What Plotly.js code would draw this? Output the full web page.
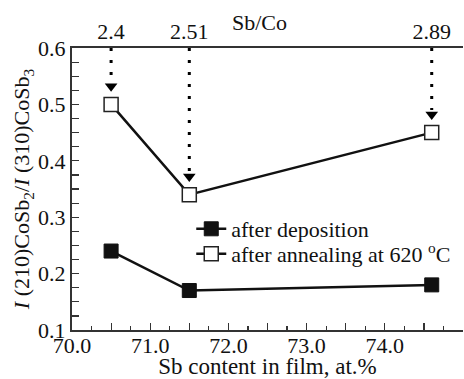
<!DOCTYPE html>
<html>
<head>
<meta charset="utf-8">
<script src="https://cdn.plot.ly/plotly-3.0.1.min.js"></script>
<style>html,body{margin:0;padding:0;background:#fff;}#chart{width:464px;height:379px;}</style>
</head>
<body>
<div id="chart"></div>
<script>
// Data
const sbContent = [70.5, 71.5, 74.6];
const sbCoRatio = ['2.4', '2.51', '2.89'];
const afterDeposition = [0.24, 0.17, 0.18];
const afterAnnealing = [0.50, 0.34, 0.45];
const xTickVals = [70, 70.5, 71, 71.5, 72, 72.5, 73, 73.5, 74, 74.5, 75];
const xTickText = ['70.0', '', '71.0', '', '72.0', '', '73.0', '', '74.0', '', ''];
const yTickVals = [0.1, 0.2, 0.3, 0.4, 0.5, 0.6];
const yTickText = ['0.1', '0.2', '0.3', '0.4', '0.5', '0.6'];

const FONT = '"Liberation Serif", "Times New Roman", Tinos, "DejaVu Serif", serif';
const traces = [];

// dotted arrows from top axis to annealed points
sbContent.forEach((x, i) => {
  traces.push({
    x: [x, x], y: [0.6, afterAnnealing[i] + 0.04],
    mode: 'lines', line: {color: '#000', width: 3, dash: '3px,9px'},
    showlegend: false, hoverinfo: 'skip', cliponaxis: false
  });
});
traces.push({
  x: sbContent, y: afterAnnealing.map(v => v + 0.032),
  mode: 'markers', marker: {symbol: 'triangle-down', size: 11, color: '#000'},
  showlegend: false, hoverinfo: 'skip'
});

traces.push({
  x: sbContent, y: afterDeposition, name: 'after deposition',
  mode: 'lines+markers', legend: 'legend',
  line: {color: '#111', width: 2.5},
  marker: {symbol: 'square', size: 14, color: '#111', line: {color: '#111', width: 1}}
});
traces.push({
  x: sbContent, y: afterAnnealing, name: 'after annealing at 620 <sup>o</sup>C',
  mode: 'lines+markers', legend: 'legend2',
  line: {color: '#111', width: 2.5},
  marker: {symbol: 'square', size: 14, color: '#fff', line: {color: '#222', width: 1.5}}
});
// invisible trace for top axis
traces.push({x: sbContent, y: afterAnnealing, xaxis: 'x2', mode: 'markers', marker: {opacity: 0}, showlegend: false, hoverinfo: 'skip'});

const legendBase = {xanchor: 'left', yanchor: 'top', bgcolor: 'rgba(0,0,0,0)', borderwidth: 0,
                    font: {family: FONT, size: 22, color: '#111'}};

const layout = {
  width: 464, height: 379,
  margin: {l: 72, r: 1, t: 48, b: 49},
  paper_bgcolor: '#fff', plot_bgcolor: '#fff',
  font: {family: FONT, size: 22, color: '#111'},
  showlegend: true,
  legend: Object.assign({x: 0.305, y: 0.4326}, legendBase),
  legend2: Object.assign({x: 0.305, y: 0.344}, legendBase),
  xaxis: {
    range: [70, 75], showgrid: false, zeroline: false,
    showline: true, linecolor: '#333', linewidth: 2,
    ticks: 'inside', ticklen: 7, tickwidth: 1.2, tickcolor: '#333',
    tickmode: 'array', tickvals: xTickVals, ticktext: xTickText,
    ticklabelstandoff: -5,
    minor: {dtick: 0.25, tick0: 70, ticks: 'inside', ticklen: 4, tickcolor: '#333', tickwidth: 1.2},
    title: {text: 'Sb content in film, at.%', font: {family: FONT, size: 23}, standoff: 4},
    tickfont: {family: FONT, size: 22}
  },
  xaxis2: {
    range: [70, 75], overlaying: 'x', side: 'top', anchor: 'y',
    showgrid: false, zeroline: false, showline: true, linecolor: '#333', linewidth: 2,
    ticks: '', tickmode: 'array', tickvals: sbContent, ticktext: sbCoRatio,
    ticklabelstandoff: -2,
    tickfont: {family: FONT, size: 22}
  },
  yaxis: {
    range: [0.1, 0.6], showgrid: false, zeroline: false,
    showline: true, linecolor: '#333', linewidth: 2,
    ticks: 'inside', ticklen: 7, tickwidth: 1.2, tickcolor: '#333',
    tickmode: 'array', tickvals: yTickVals, ticktext: yTickText,
    minor: {dtick: 0.025, tick0: 0.1, ticks: 'inside', ticklen: 7, tickcolor: '#333', tickwidth: 1.2},
    tickfont: {family: FONT, size: 22},
    title: {text: '<i>I</i> (210)CoSb<sub>2</sub>/<i>I</i> (310)CoSb<sub>3</sub>', font: {family: FONT, size: 22}, standoff: 2}
  },
  annotations: [{
    text: 'Sb/Co', xref: 'paper', yref: 'paper', x: 0.48, y: 1.092,
    xanchor: 'center', yanchor: 'middle', showarrow: false,
    font: {family: FONT, size: 22, color: '#111'}
  }]
};

Plotly.newPlot('chart', traces, layout, {displayModeBar: false, staticPlot: true});
</script>
</body>
</html>
